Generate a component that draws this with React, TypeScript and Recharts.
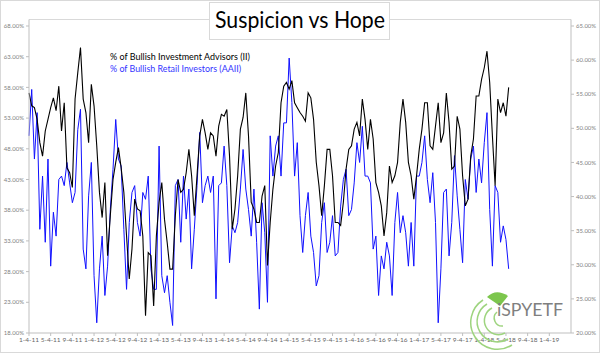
import { LineChart, Line, XAxis, YAxis } from 'recharts';

// readings every half month, starting 1-4-11
const STEP = 0.5;

const iiBullish = [
  57.1, 55.0, 54.7, 52.8, 49.0, 46.8, 50.9, 52.8, 54.7, 56.3,
  54.2, 58.2, 50.9, 55.5, 44.9, 44.1, 41.7, 56.1, 60.4, 64.5,
  56.1, 53.9, 49.0, 58.5, 55.0, 48.5, 40.9, 36.8, 42.5, 30.6,
  37.1, 43.0, 45.8, 48.2, 44.9, 40.9, 33.8, 26.8, 31.7, 39.8,
  38.2, 37.9, 33.8, 20.8, 31.1, 30.6, 22.4, 33.8, 39.3, 42.5,
  36.5, 32.7, 28.4, 28.4, 37.1, 43.0, 40.9, 41.4, 44.1, 47.9,
  43.6, 37.1, 43.6, 50.1, 52.8, 50.6, 47.9, 50.6, 50.1, 46.8,
  51.7, 53.6, 53.3, 54.4, 46.8, 34.9, 38.2, 43.6, 51.2, 53.1,
  57.1, 50.1, 39.3, 38.2, 36.0, 36.0, 40.3, 42.0, 29.0, 36.0,
  41.4, 45.2, 47.4, 55.5, 58.2, 58.8, 57.7, 59.1, 55.5, 54.7,
  53.9, 53.3, 52.5, 57.1, 56.3, 52.8, 45.8, 42.0, 37.1, 42.0,
  47.9, 47.9, 43.6, 36.0, 36.0, 35.5, 39.3, 44.7, 47.9, 48.5,
  51.2, 52.3, 50.1, 56.1, 52.8, 47.9, 52.8, 49.6, 42.5, 40.9,
  38.7, 33.8, 37.6, 45.2, 42.5, 43.6, 45.8, 52.3, 56.1, 52.3,
  45.8, 43.6, 39.8, 43.6, 47.9, 51.2, 55.5, 55.5, 48.5, 47.9,
  51.7, 55.5, 49.0, 50.6, 57.1, 52.3, 44.7, 45.2, 53.3, 51.2,
  43.6, 38.7, 39.8, 46.8, 49.6, 56.6, 56.6, 59.3, 61.2, 63.9,
  58.8, 50.1, 42.0, 56.1, 53.9, 55.5, 53.3, 58.0,
];

const aaiiBullish = [
  48.9, 55.7, 45.5, 52.3, 35.2, 43.0, 33.3, 45.5, 29.8, 37.7,
  34.2, 42.5, 43.0, 41.6, 45.0, 42.0, 39.1, 40.6, 49.8, 52.8,
  32.3, 29.4, 40.1, 45.0, 28.4, 21.5, 29.4, 34.2, 25.5, 29.8,
  38.1, 44.0, 51.3, 45.5, 44.5, 35.2, 26.4, 36.2, 40.6, 41.6,
  36.2, 34.2, 40.6, 39.6, 43.0, 29.4, 26.4, 26.4, 47.4, 28.4,
  25.9, 28.4, 24.5, 21.1, 41.6, 42.5, 33.3, 43.0, 36.7, 41.1,
  29.4, 35.2, 41.6, 49.4, 39.1, 41.6, 43.0, 40.6, 43.0, 25.0,
  41.6, 42.0, 47.4, 41.6, 30.3, 35.7, 34.7, 36.2, 41.1, 46.9,
  41.1, 38.1, 34.2, 41.1, 33.3, 23.5, 39.1, 34.7, 24.5, 48.9,
  43.0, 47.4, 48.9, 43.0, 50.8, 50.8, 60.3, 53.8, 43.0, 47.9,
  37.2, 31.8, 37.2, 40.6, 34.2, 31.8, 26.9, 28.4, 36.2, 39.1,
  31.8, 33.3, 37.2, 31.3, 31.8, 38.6, 42.5, 44.0, 37.2, 38.1,
  42.0, 47.9, 45.0, 50.3, 43.0, 43.0, 42.0, 32.3, 34.2, 25.5,
  31.3, 29.4, 33.3, 31.3, 25.5, 36.2, 40.6, 34.7, 37.2, 34.7,
  29.8, 36.2, 29.8, 43.0, 43.0, 45.0, 48.9, 42.5, 39.1, 43.5,
  36.2, 21.5, 29.4, 40.6, 41.1, 31.3, 36.2, 46.0, 40.1, 35.2,
  30.3, 42.5, 39.6, 45.5, 47.4, 40.6, 45.5, 42.0, 47.9, 52.3,
  38.1, 29.8, 41.6, 40.6, 33.3, 35.7, 33.7, 29.4,
];

const monthTicks = [0, 4, 8, 12, 16, 20, 24, 28, 32, 36, 40, 44, 48, 52, 56, 60, 64, 68, 72, 76, 80, 84, 88, 92, 96];
const dateLabels = [
  '1-4-11', '5-4-11', '9-4-11', '1-4-12', '5-4-12', '9-4-12', '1-4-13', '5-4-13', '9-4-13',
  '1-4-14', '5-4-14', '9-4-14', '1-4-15', '5-4-15', '9-4-15', '1-4-16', '5-4-16', '9-4-16',
  '1-4-17', '5-4-17', '9-4-17', '1-4-18', '5-4-18', '9-4-18', '1-4-19',
];
const leftTicks = [18, 23, 28, 33, 38, 43, 48, 53, 58, 63, 68];
const rightTicks = [20, 25, 30, 35, 40, 45, 50, 55, 60, 65];

const data = iiBullish.map((ii, i) => ({ month: i * STEP, ii, aaii: aaiiBullish[i] }));

const pct = (v: number) => `${v.toFixed(2)}%`;
const axisGray = '#bfbfbf';
const tickStyle = { fontSize: 6, fill: '#7f7f7f', fontFamily: 'Lato' };

export default function App() {
  return (
    <div style={{ position: 'absolute', left: 0, top: 0, width: 600, height: 354, background: '#fff' }}>
      <LineChart width={600} height={354} data={data} margin={{ top: 26, right: 0, bottom: 0, left: 0 }}>
        <XAxis
          dataKey="month"
          type="number"
          domain={[0, 100]}
          ticks={monthTicks}
          interval={0}
          tickFormatter={(m: number) => dateLabels[m / 4]}
          height={21}
          tickSize={3}
          tickMargin={1}
          stroke={axisGray}
          tick={{ ...tickStyle, fontSize: 6.5, fill: '#666' }}
        />
        <YAxis
          yAxisId="left"
          domain={[18, 68]}
          ticks={leftTicks}
          tickFormatter={pct}
          width={29}
          tickSize={3}
          tickMargin={2}
          stroke={axisGray}
          tick={tickStyle}
        />
        <YAxis
          yAxisId="right"
          orientation="right"
          domain={[20, 65]}
          ticks={rightTicks}
          tickFormatter={pct}
          width={29}
          tickSize={3}
          tickMargin={2}
          stroke={axisGray}
          tick={tickStyle}
        />
        <Line yAxisId="right" dataKey="aaii" stroke="#1010ff" strokeWidth={1} dot={false} isAnimationActive={false} />
        <Line yAxisId="left" dataKey="ii" stroke="#000000" strokeWidth={1.1} dot={false} isAnimationActive={false} />
      </LineChart>

      <svg width={600} height={354} style={{ position: 'absolute', left: 0, top: 0, pointerEvents: 'none' }}>
        <rect x={0.5} y={0.5} width={599} height={352} fill="none" stroke="#d9d9d9" />
        <line x1={29} y1={19.5} x2={571} y2={19.5} stroke="#d9d9d9" />
        <line x1={29} y1={19.5} x2={29} y2={26} stroke={axisGray} />
        <line x1={571} y1={19.5} x2={571} y2={26} stroke={axisGray} />

        <rect x={209.5} y={2.5} width={180} height={37} fill="#fff" stroke="#d9d9d9" />
        <text x={300} y={28} textAnchor="middle" fontFamily="Lato" fontSize={24} fill="#000" textLength={170} lengthAdjust="spacingAndGlyphs">
          Suspicion vs Hope
        </text>

        <text x={110} y={60} fontFamily="Lato" fontSize={8.5} fill="#000" textLength={140} lengthAdjust="spacingAndGlyphs">
          % of Bullish Investment Advisors (II)
        </text>
        <text x={110} y={72} fontFamily="Lato" fontSize={8.5} fill="#3333ff" textLength={131} lengthAdjust="spacingAndGlyphs">
          % of Bullish Retail Investors (AAII)
        </text>

        <g fill="none" stroke="#9ed47f" strokeWidth={1.5}>
          <path d="M 497 312 A 8 8 0 0 0 503 326" />
          <path d="M 492 308 A 14 14 0 0 0 505 333" />
          <path d="M 487 304 A 20 20 0 0 0 508 339" />
          <path d="M 483 300 A 26 26 0 0 0 512 345" />
        </g>
        <path d="M 487 297 Q 496 288 508 296 L 500 306 Z" fill="#7cc64d" />
        <text x={497} y={316} fontFamily="Lato" fontSize={18} fill="#7f7f7f" textLength={66} lengthAdjust="spacingAndGlyphs">
          iSPYETF
        </text>
      </svg>
    </div>
  );
}
